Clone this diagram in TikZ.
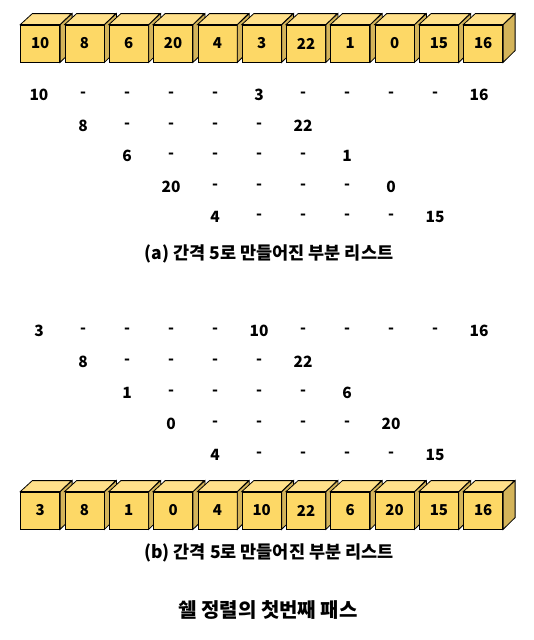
\documentclass[tikz,border=0pt]{standalone}
\usepackage{fontspec}
\setmainfont{Noto Sans CJK KR}
\definecolor{cubefront}{HTML}{FDD866}
\definecolor{cubetop}{HTML}{FFE08A}
\definecolor{cubeside}{HTML}{D4B45A}
\tikzset{
cube/.style={draw, fill=cubefront, minimum width=39pt, minimum height=37pt, inner sep=0pt, font=\bfseries\fontsize{15}{15}\selectfont},
num/.style={inner sep=0pt, font=\bfseries\fontsize{15.5}{15.5}\selectfont},
caption/.style={inner sep=0pt, font=\bfseries\fontsize{17.5}{17.5}\selectfont},
title/.style={inner sep=0pt, font=\bfseries\fontsize{20}{20}\selectfont},
}

\begin{document}
\begin{tikzpicture}[x=1pt, y=-1pt, line width=0.8pt]
    \useasboundingbox (0,0) rectangle (533,640);

    %list before the pass
    \foreach \v [count=\i from 0] in {10,8,6,20,4,3,22,1,0,15,16} {
        \node[cube] (top\i) at ({40.2+44.3*\i},43.5) {\v};
        \filldraw[fill=cubeside] (top\i.north east) -- ++(12,-11) -- ++(0,37) -- (top\i.south east) -- cycle;
        \filldraw[fill=cubetop] (top\i.north west) -- ++(12,-11) -- ++(39,0) -- (top\i.north east) -- cycle;
    }

    %sublists with gap 5
    \foreach \a/\b/\r in {10/3/0, 8/22/1, 6/1/2, 20/0/3, 4/15/4} {
        \node[num] (a\r-\r) at ({39+44*\r},{95+30.5*\r}) {\a};
        \foreach \k in {1,...,4}
            \node[num] (a\r-d\k) at ({39+44*(\r+\k)},{95+30.5*\r}) {-};
        \node[num] (a\r-e) at ({39+44*(\r+5)},{95+30.5*\r}) {\b};
    }
    \foreach \k in {6,...,9}
        \node[num] (a0-d\k) at ({39+44*\k},95) {-};
    \node[num] (a0-last) at (479,95) {16};
    \node[caption] (capa) at (269,254) {(a) 간격 5로 만들어진 부분 리스트};

    %sublists after sorting
    \foreach \a/\b/\r in {3/10/0, 8/22/1, 1/6/2, 0/20/3, 4/15/4} {
        \node[num] (b\r-\r) at ({39+44*\r},{331+30.9*\r}) {\a};
        \foreach \k in {1,...,4}
            \node[num] (b\r-d\k) at ({39+44*(\r+\k)},{331+30.9*\r}) {-};
        \node[num] (b\r-e) at ({39+44*(\r+5)},{331+30.9*\r}) {\b};
    }
    \foreach \k in {6,...,9}
        \node[num] (b0-d\k) at ({39+44*\k},331) {-};
    \node[num] (b0-last) at (479,331) {16};

    %list after the pass
    \foreach \v [count=\i from 0] in {3,8,1,0,4,10,22,6,20,15,16} {
        \node[cube] (bot\i) at ({40.2+44.3*\i},510.5) {\v};
        \filldraw[fill=cubeside] (bot\i.north east) -- ++(12,-11) -- ++(0,37) -- (bot\i.south east) -- cycle;
        \filldraw[fill=cubetop] (bot\i.north west) -- ++(12,-11) -- ++(39,0) -- (bot\i.north east) -- cycle;
    }
    \node[caption] (capb) at (269,553) {(b) 간격 5로 만들어진 부분 리스트};

    \node[title] (ttl) at (268,610) {쉘 정렬의 첫번째 패스};

\end{tikzpicture}
\end{document}
